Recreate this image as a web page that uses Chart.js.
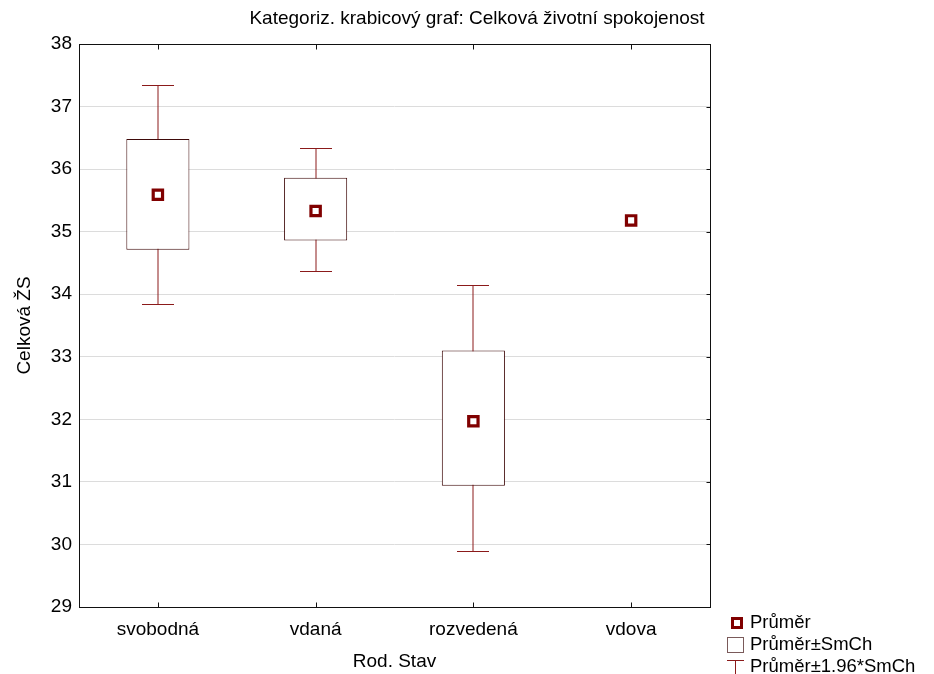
<!DOCTYPE html>
<html>
<head>
<meta charset="utf-8">
<script src="https://cdn.jsdelivr.net/npm/chart.js@4.4.0/dist/chart.umd.min.js"></script>
<style>
    html, body { margin: 0; padding: 0; background: #fff; }
    #wrap { width: 934px; height: 674px; position: relative; }
</style>
</head>
<body>
<div id="wrap"><canvas id="chart"></canvas></div>
<script>
// data
var categories = ['svobodná', 'vdaná', 'rozvedená', 'vdova'];
var means = [35.59, 35.33, 31.97, 35.18];
var boxLow = [34.71, 34.86, 30.94, null];
var boxHigh = [36.48, 35.86, 33.10, null];
var whiskerLow = [33.85, 34.37, 29.90, null];
var whiskerHigh = [37.34, 36.34, 34.14, null];
var yMin = 29, yMax = 38;

var chartTitle = 'Kategoriz. krabicový graf: Celková životní spokojenost';
var xTitle = 'Rod. Stav';
var yTitle = 'Celková ŽS';
var legendLabels = ['Průměr', 'Průměr±SmCh', 'Průměr±1.96*SmCh'];

var FONT = 'Liberation Sans, Arial, Helvetica, sans-serif';
var boxData = categories.map(function(c, i) {
    return boxLow[i] == null ? null : [boxLow[i], boxHigh[i]];
});

// whiskers go under the boxes
var whiskerPlugin = {
    id: 'whiskers',
    beforeDatasetsDraw: function(chart) {
        var ctx = chart.ctx;
        var xs = chart.scales.x, ys = chart.scales.y;
        ctx.save();
        ctx.strokeStyle = '#8b1a1a';
        ctx.lineWidth = 1;
        for (var i = 0; i < categories.length; i++) {
            if (whiskerLow[i] == null) continue;
            var x = Math.round(xs.getPixelForValue(i));
            var y1 = Math.round(ys.getPixelForValue(whiskerLow[i])) + 0.5;
            var y2 = Math.round(ys.getPixelForValue(whiskerHigh[i])) + 0.5;
            ctx.beginPath();
            ctx.moveTo(x, y1); ctx.lineTo(x, y2);
            ctx.moveTo(x - 16, y1); ctx.lineTo(x + 16, y1);
            ctx.moveTo(x - 16, y2); ctx.lineTo(x + 16, y2);
            ctx.stroke();
        }
        ctx.restore();
    }
};

// frame, inward ticks, title and legend
var framePlugin = {
    id: 'frame',
    afterDraw: function(chart) {
        var ctx = chart.ctx;
        var a = chart.chartArea;
        var xs = chart.scales.x, ys = chart.scales.y;
        ctx.save();
        ctx.strokeStyle = '#111';
        ctx.lineWidth = 1;
        var l = Math.round(a.left) + 0.5, r = Math.round(a.right) + 0.5;
        var t = Math.round(a.top) + 0.5, b = Math.round(a.bottom) + 0.5;
        ctx.strokeRect(l, t, r - l, b - t);
        ctx.beginPath();
        for (var i = 0; i < categories.length; i++) {
            var x = Math.round(xs.getPixelForValue(i)) + 0.5;
            ctx.moveTo(x, t); ctx.lineTo(x, t + 5);
            ctx.moveTo(x, b); ctx.lineTo(x, b - 5);
        }
        for (var v = yMin; v <= yMax; v++) {
            var y = Math.round(ys.getPixelForValue(v)) + 0.5;
            ctx.moveTo(r, y); ctx.lineTo(r - 4, y);
        }
        ctx.stroke();

        ctx.fillStyle = '#000';
        ctx.font = '19px ' + FONT;
        ctx.textAlign = 'center';
        ctx.textBaseline = 'middle';
        ctx.fillText(chartTitle, 477, 19);

        // legend
        var lx = 727, rows = [623, 645, 667];
        ctx.textAlign = 'left';
        ctx.fillStyle = '#800000';
        ctx.fillRect(731, rows[0] - 6, 12, 12);
        ctx.fillStyle = '#fff';
        ctx.fillRect(734, rows[0] - 3, 6, 6);
        ctx.strokeStyle = '#7a5a5a';
        ctx.strokeRect(lx + 0.5, rows[1] - 7.5, 16, 15);
        ctx.strokeStyle = '#8b1a1a';
        ctx.beginPath();
        ctx.moveTo(lx, rows[2] - 6.5); ctx.lineTo(lx + 17, rows[2] - 6.5);
        ctx.moveTo(lx + 8.5, rows[2] - 6.5); ctx.lineTo(lx + 8.5, 674);
        ctx.stroke();
        ctx.fillStyle = '#000';
        ctx.font = '18.5px ' + FONT;
        for (var k = 0; k < legendLabels.length; k++) {
            ctx.fillText(legendLabels[k], 750, rows[k]);
        }
        ctx.restore();
    }
};

new Chart(document.getElementById('chart'), {
    type: 'bar',
    data: {
        labels: categories,
        datasets: [{
            type: 'line',
            label: 'Průměr',
            data: means,
            showLine: false,
            pointStyle: 'rect',
            pointRadius: 6.6,
            pointHoverRadius: 6.6,
            pointBorderWidth: 3.2,
            pointBackgroundColor: '#fff',
            pointBorderColor: '#800000',
            order: 0
        }, {
            label: 'Průměr±SmCh',
            data: boxData,
            backgroundColor: '#fff',
            borderColor: '#3f0a0a',
            borderWidth: 1,
            borderSkipped: false,
            barPercentage: 0.4,
            categoryPercentage: 1,
            order: 1
        }]
    },
    options: {
        responsive: true,
        maintainAspectRatio: false,
        animation: false,
        layout: { padding: { top: 44, right: 224, bottom: 0, left: 0 } },
        plugins: {
            legend: { display: false },
            title: { display: false },
            tooltip: { enabled: false }
        },
        scales: {
            x: {
                type: 'category',
                offset: true,
                grid: { display: false, drawTicks: false },
                border: { display: false },
                ticks: { color: '#000', font: { family: FONT, size: 19 }, padding: 11 },
                title: { display: true, text: xTitle, color: '#000', font: { family: FONT, size: 19 }, padding: { top: 0, bottom: 1 } },
                afterFit: function(s) { s.height = 67; }
            },
            y: {
                min: yMin,
                max: yMax,
                ticks: { stepSize: 1, color: '#000', font: { family: FONT, size: 19 }, padding: 7 },
                grid: { color: '#dcdcdc', drawTicks: false },
                border: { display: false },
                title: { display: true, text: yTitle, color: '#000', font: { family: FONT, size: 19 }, padding: { top: 13, bottom: 0 } },
                afterFit: function(s) { s.width = 79; }
            }
        }
    },
    plugins: [whiskerPlugin, framePlugin]
});
</script>
</body>
</html>
